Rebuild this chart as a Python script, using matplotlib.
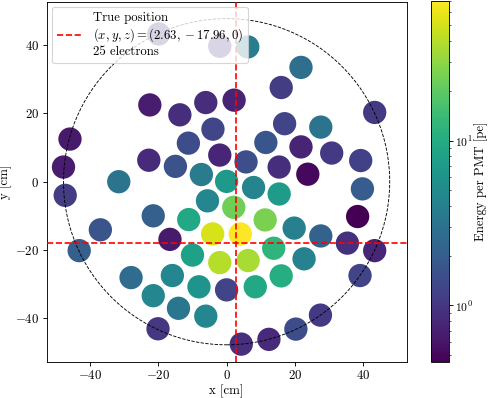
import matplotlib
matplotlib.use('Agg')
import matplotlib.pyplot as plt
from matplotlib.colors import LogNorm
import numpy as np

plt.rcParams['font.family'] = 'serif'
plt.rcParams['font.serif'] = ['cmr10']
plt.rcParams['mathtext.fontset'] = 'cm'
plt.rcParams['axes.formatter.use_mathtext'] = True
plt.rcParams['font.size'] = 11.5

# ── PMT positions [cm] and energy per PMT [pe] ────────────────────────────────
pmt_x = [-19.9, -2.0, 6.2, 21.8, 16.0, 43.4, -22.5, -13.7, -6.1, 2.2,
         -4.0, 17.0, 27.6, -45.9, -11.2, 11.5, -22.8, -2.0, 21.8, 30.8,
         39.3, -47.8, -15.0, 5.7, 15.4, 23.8, -31.6, -7.4, 0.0, 7.9,
         15.4, 39.8, -47.3, -21.5, -5.6, 2.1, 11.3, -11.1, 19.8, 38.4,
         -37.0, -4.1, 4.0, 27.6, -16.6, 35.4, -43.2, 13.8, -10.0, -2.0,
         6.3, 22.7, 43.4, -28.0, -15.9, 16.0, 39.1, -8.1, 0.0, 8.4,
         -21.5, -14.1, -6.1, 27.5, -20.1, 20.3, 4.3, 12.4]
pmt_y = [43.3, 39.7, 39.5, 33.5, 27.6, 20.3, 22.5, 19.6, 23.2, 23.9,
         15.4, 17.0, 16.0, 12.5, 11.3, 11.5, 6.3, 7.8, 10.2, 8.4,
         6.2, 4.3, 4.5, 5.8, 4.3, 2.2, 0.0, 2.1, 0.1, -1.7,
         -3.6, -2.1, -4.0, -10.0, -5.6, -7.5, -11.2, -11.1, -13.6, -10.2,
         -14.1, -15.3, -15.3, -15.9, -16.9, -18.0, -20.2, -19.5, -21.5, -23.7,
         -23.1, -22.6, -20.2, -28.1, -27.5, -27.6, -27.5, -30.8, -31.7, -30.8,
         -33.4, -37.1, -39.4, -39.1, -43.1, -43.2, -47.6, -46.2]
pmt_energy = [0.95, 0.95, 3.75, 2.8, 1.11, 1.06, 0.67, 0.87, 0.85, 0.75,
              1.3, 1.23, 3.07, 0.64, 1.44, 1.75, 0.82, 0.76, 0.74, 1.06,
              1.17, 0.67, 1.6, 1.5, 0.87, 0.50, 3.07, 3.6, 6.9, 4.4,
              7.2, 1.95, 1.11, 2.05, 4.6, 23.2, 25.7, 9.3, 3.95, 0.449,
              1.67, 52.0, 70.5, 2.15, 0.64, 0.9, 2.05, 12.0, 8.0, 40.4,
              36.6, 4.15, 0.78, 2.64, 4.6, 10.3, 1.23, 6.2, 1.23, 9.3,
              4.6, 3.25, 4.6, 1.06, 1.0, 1.44, 0.9, 0.82]

true_x, true_y, true_z = 2.63, -17.96, 0
n_electrons = 25
detector_radius = 47.8

# ── Plot ──────────────────────────────────────────────────────────────────────
fig = plt.figure(figsize=(6.1, 4.975), dpi=80)
ax = fig.add_axes([0.0953, 0.0912, 0.7381, 0.9045])
cax = fig.add_axes([0.8832, 0.0897, 0.0375, 0.908])

sc = ax.scatter(pmt_x, pmt_y, c=pmt_energy, s=440, cmap='viridis',
                norm=LogNorm(), linewidths=0, zorder=2)

ax.add_patch(plt.Circle((0, 0), detector_radius, fill=False, color='black',
                        ls='--', lw=0.8, zorder=3))
ax.axvline(true_x, color='red', ls='--', lw=1.5, zorder=4,
           label='True position\n$(x, y, z) = (%.2f, %.2f, %d)$\n%d electrons'
           % (true_x, true_y, true_z, n_electrons))
ax.axhline(true_y, color='red', ls='--', lw=1.5, zorder=4)

ax.set_xlim(-52.75, 52.75)
ax.set_ylim(-52.75, 52.75)
ax.set_aspect('equal')
ax.set_xticks([-40, -20, 0, 20, 40])
ax.set_yticks([-40, -20, 0, 20, 40])
ax.set_xlabel('x [cm]', labelpad=2)
ax.set_ylabel('y [cm]', labelpad=2)
ax.legend(loc='upper left', borderaxespad=0.4)

cb = fig.colorbar(sc, cax=cax)
cb.ax.tick_params(labelsize=10.5, pad=2)
cb.set_label('Energy per PMT [pe]', labelpad=1)

fig.savefig('out.png', dpi=80)
